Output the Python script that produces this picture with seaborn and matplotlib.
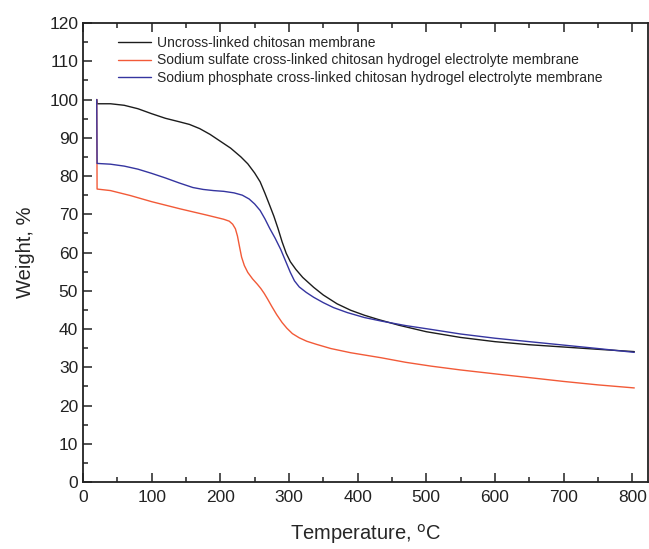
import matplotlib
matplotlib.use("Agg")
import matplotlib.pyplot as plt
from matplotlib.ticker import MultipleLocator
import seaborn as sns
import pandas as pd

# TGA curves: temperature (°C) vs. residual weight (%)
uncross_T = [20, 20.5, 40, 60, 80, 100, 120, 140, 155, 170, 185, 200, 215, 230, 240, 250,
             258, 265, 272, 278, 284, 290, 296, 302, 310, 320, 336, 350, 370, 390, 410,
             430, 460, 500, 550, 600, 650, 700, 750, 803]
uncross_W = [100, 98.9, 98.9, 98.5, 97.6, 96.3, 95.1, 94.2, 93.5, 92.4, 90.9, 89.1, 87.3,
             85.0, 83.2, 80.8, 78.5, 75.5, 72.3, 69.5, 66.3, 62.8, 59.8, 57.6, 55.6, 53.5,
             50.9, 48.9, 46.6, 44.9, 43.6, 42.5, 41.0, 39.3, 37.8, 36.7, 35.9, 35.3, 34.7,
             34.1]

sulfate_T = [20, 20.5, 40, 69, 100, 142, 180, 205, 213, 218, 222, 225, 228, 231, 235, 240,
             247, 254, 259, 264, 269, 275, 282, 290, 297, 305, 315, 326, 340, 361, 390, 434,
             470, 507, 550, 609, 650, 700, 750, 803]
sulfate_W = [100, 76.6, 76.2, 74.9, 73.3, 71.4, 69.8, 68.7, 68.2, 67.4, 66.2, 64.3, 61.5,
             58.8, 56.6, 54.8, 53.1, 51.7, 50.6, 49.3, 47.8, 45.9, 43.8, 41.7, 40.2, 38.8,
             37.7, 36.8, 36.0, 34.9, 33.8, 32.5, 31.3, 30.3, 29.3, 28.1, 27.3, 26.3, 25.4,
             24.6]

phosphate_T = [20, 20.5, 40, 60, 80, 100, 120, 140, 160, 175, 190, 205, 220, 232, 242, 250,
               258, 265, 272, 280, 288, 295, 302, 308, 315, 325, 336, 350, 365, 385, 410,
               434, 470, 507, 550, 600, 650, 700, 750, 803]
phosphate_W = [100, 83.3, 83.1, 82.6, 81.8, 80.7, 79.5, 78.2, 77.0, 76.5, 76.2, 76.0, 75.6,
               75.0, 74.0, 72.7, 71.0, 68.8, 66.3, 63.7, 60.8, 57.8, 54.8, 52.6, 51.0, 49.6,
               48.3, 46.9, 45.6, 44.3, 43.0, 42.1, 40.9, 39.9, 38.7, 37.6, 36.7, 35.8, 34.9,
               33.9]

labels = ["Uncross-linked chitosan membrane",
          "Sodium sulfate cross-linked chitosan hydrogel electrolyte membrane",
          "Sodium phosphate cross-linked chitosan hydrogel electrolyte membrane"]
colors = ["#1c1c1c", "#f25a38", "#3535a0"]

df = pd.concat([
    pd.DataFrame({"T": uncross_T, "W": uncross_W, "sample": labels[0]}),
    pd.DataFrame({"T": sulfate_T, "W": sulfate_W, "sample": labels[1]}),
    pd.DataFrame({"T": phosphate_T, "W": phosphate_W, "sample": labels[2]}),
])

sns.set_style("ticks")
plt.rcParams["font.family"] = ["Liberation Sans", "DejaVu Sans"]

fig = plt.figure(figsize=(6.49, 5.49), dpi=100)
ax = fig.add_axes([0.1279, 0.122, 0.8706, 0.836])

sns.lineplot(data=df, x="T", y="W", hue="sample", palette=dict(zip(labels, colors)),
             hue_order=labels, sort=False, estimator=None, linewidth=1.0, ax=ax)

ax.set_xlim(0, 823)
ax.set_ylim(0, 120)
ax.xaxis.set_major_locator(MultipleLocator(100))
ax.xaxis.set_minor_locator(MultipleLocator(50))
ax.yaxis.set_major_locator(MultipleLocator(10))
ax.yaxis.set_minor_locator(MultipleLocator(5))
ax.tick_params(which="both", direction="in", top=True, right=False, width=1.1,
               labelsize=12.5, colors="#222222")
ax.tick_params(which="major", length=6.5)
ax.tick_params(which="minor", length=3.5)
ax.tick_params(axis="x", pad=6)
for s in ax.spines.values():
    s.set_linewidth(1.3)
    s.set_color("#222222")

ax.set_xlabel("Temperature, $^{\\mathrm{o}}$C", fontsize=14.5, labelpad=12)
ax.set_ylabel("Weight, %", fontsize=14.5, labelpad=10)

ax.legend(loc="upper left", bbox_to_anchor=(0.04, 1.0), frameon=False, fontsize=10,
          handlelength=2.4, handletextpad=0.4, labelspacing=0.28)

fig.savefig("out.png", dpi=100)
